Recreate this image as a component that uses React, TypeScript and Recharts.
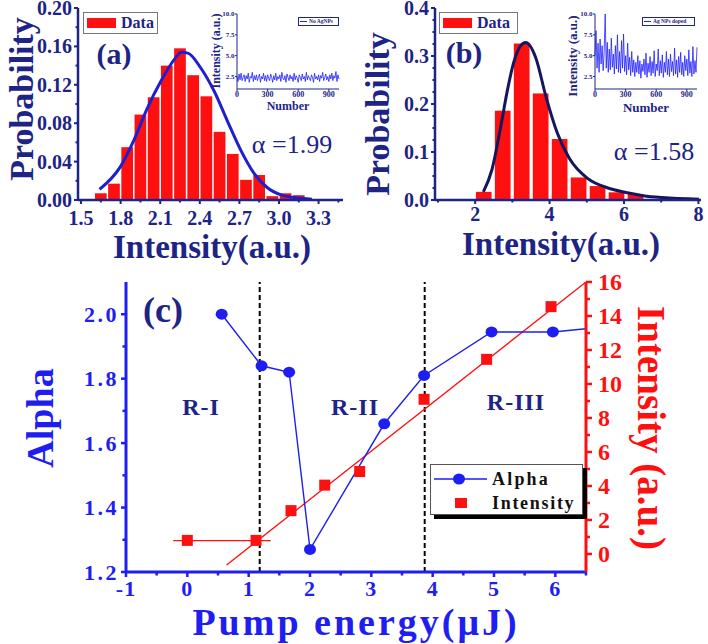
import React from "react";
import { ComposedChart, Bar, Line, Scatter, XAxis, YAxis, ReferenceLine } from "recharts";

const FONT = "'Liberation Serif', 'Times New Roman', serif";
const NAVY = "#1d2486";
const RED = "#ff1010";
const BLUE = "#1e1ef2";
const FIT_A = "#1f1fcf";
const FIT_B = "#16165e";

// ---- (a) histogram, no AgNPs
const binsA = [1.65, 1.75, 1.85, 1.95, 2.05, 2.15, 2.25, 2.35, 2.45, 2.55, 2.65, 2.75, 2.85, 2.95, 3.05, 3.15];
const probA = [0.007, 0.017, 0.055, 0.089, 0.107, 0.14, 0.158, 0.13, 0.108, 0.071, 0.048, 0.021, 0.026, 0.004, 0.007, 0.005];
const fitAx = [1.64, 1.8, 1.9, 2.0, 2.11, 2.21, 2.26, 2.31, 2.41, 2.51, 2.61, 2.71, 2.81, 2.91, 3.02, 3.12, 3.25];
const fitAy = [0.011, 0.035, 0.062, 0.095, 0.125, 0.147, 0.154, 0.153, 0.137, 0.113, 0.082, 0.052, 0.028, 0.013, 0.005, 0.0025, 0.0007];
const ticksAx = [1.5, 1.65, 1.8, 1.95, 2.1, 2.25, 2.4, 2.55, 2.7, 2.85, 3.0, 3.15, 3.3, 3.45];
const labelsAx = [1.5, 1.8, 2.1, 2.4, 2.7, 3.0, 3.3];
const ticksAy = [0, 0.02, 0.04, 0.06, 0.08, 0.1, 0.12, 0.14, 0.16, 0.18, 0.2];
const labelsAy = [0, 0.04, 0.08, 0.12, 0.16, 0.2];

// ---- (b) histogram, Ag NPs doped
const binsB = [2.23, 2.74, 3.25, 3.76, 4.27, 4.78, 5.29, 5.8, 6.31];
const probB = [0.017, 0.186, 0.326, 0.222, 0.127, 0.047, 0.029, 0.016, 0.0125];
const fitBx = [2.22, 2.45, 2.67, 2.87, 3.03, 3.21, 3.36, 3.63, 3.9, 4.21, 4.53, 5.02, 5.53, 6.02, 6.52, 7.03, 8.02];
const fitBy = [0.017, 0.063, 0.146, 0.23, 0.285, 0.32, 0.328, 0.296, 0.216, 0.139, 0.087, 0.045, 0.026, 0.016, 0.009, 0.005, 0.0014];
const ticksBx = [1, 2, 3, 4, 5, 6, 7, 8];
const labelsBx = [2, 4, 6, 8];
const ticksBy = [0, 0.025, 0.05, 0.075, 0.1, 0.125, 0.15, 0.175, 0.2, 0.225, 0.25, 0.275, 0.3, 0.325, 0.35, 0.375, 0.4];
const labelsBy = [0, 0.1, 0.2, 0.3, 0.4];

// ---- insets: intensity vs shot number
const noiseA = [2.5, 1.9, 2.8, 2.1, 2.9, 2.0, 2.4, 2.7, 1.9, 2.6, 2.2, 2.9, 1.8, 2.5, 2.3, 3.0, 1.9, 2.6, 2.1, 2.7, 2.0, 2.4, 2.8, 1.8, 2.5, 2.2, 2.9, 2.0, 2.6, 1.9, 2.7, 2.3, 2.0, 2.8, 2.4, 1.8, 2.6, 2.1, 2.9, 2.0, 2.5, 2.2, 2.7, 1.9, 3.0, 2.3, 2.1, 2.6, 1.8, 2.8, 2.4, 2.0, 2.7, 2.2, 2.5, 1.9, 2.9, 2.1, 2.6, 2.3, 1.8, 2.7, 2.4, 2.0, 2.8, 2.2, 2.5, 1.9, 3.0, 2.1, 2.6, 2.3, 2.0, 2.7, 2.4, 1.8, 2.9, 2.2, 2.5, 2.1, 2.7, 1.9, 2.6, 2.3, 3.0, 2.0, 2.4, 2.8, 2.1, 2.5, 1.9, 2.7, 2.2, 2.9, 2.0, 2.6, 2.3, 3.1, 1.9, 2.7, 2.2];
const noiseB = [5.0, 8.0, 3.5, 6.5, 3.0, 7.0, 4.0, 6.2, 3.2, 5.5, 10.0, 3.5, 6.6, 3.0, 5.8, 3.3, 7.1, 3.6, 5.2, 2.8, 6.2, 3.4, 7.5, 3.0, 5.5, 2.9, 6.8, 3.5, 7.6, 3.1, 5.0, 2.7, 6.5, 3.3, 4.8, 2.6, 5.5, 3.0, 4.5, 2.5, 4.2, 3.0, 5.0, 2.8, 4.4, 2.3, 4.0, 3.1, 4.6, 2.7, 5.3, 2.4, 4.1, 3.0, 4.9, 2.6, 4.3, 2.9, 5.6, 2.5, 4.0, 3.2, 5.8, 2.6, 4.4, 2.9, 5.1, 2.4, 4.2, 3.0, 5.5, 2.7, 4.6, 2.5, 5.2, 3.1, 4.3, 2.6, 5.9, 2.8, 4.5, 2.4, 4.9, 3.0, 5.4, 2.7, 4.2, 2.5, 5.0, 3.2, 4.6, 2.6, 5.7, 2.9, 4.3, 2.5, 6.1, 2.8, 4.4, 3.0, 6.0];
const insetXTicks = [0, 300, 600, 900];
const insetYTicks = [2.5, 5, 7.5, 10];

// ---- (c) alpha and intensity vs pump energy
const energyAlpha = [0.56, 1.21, 1.66, 2.0, 3.21, 3.86, 4.96, 5.96, 6.5];
const alphaVals = [2.0, 1.84, 1.82, 1.27, 1.66, 1.81, 1.945, 1.945, 1.955];
const energyInt = [0, 1.12, 1.69, 2.24, 2.81, 3.86, 4.88, 5.93];
const intensityVals = [0.8, 0.8, 2.55, 4.05, 4.85, 9.1, 11.45, 14.55];
const flatE = [-0.23, 1.36];
const flatI = [0.78, 0.78];
const trendE = [0.64, 6.5];
const trendI = [-0.65, 16];
const regionBounds = [1.18, 3.87];
const ticksCx = [-1, -0.5, 0, 0.5, 1, 1.5, 2, 2.5, 3, 3.5, 4, 4.5, 5, 5.5, 6, 6.5];
const labelsCx = [-1, 0, 1, 2, 3, 4, 5, 6];
const ticksCl = [1.2, 1.3, 1.4, 1.5, 1.6, 1.7, 1.8, 1.9, 2.0];
const labelsCl = [1.2, 1.4, 1.6, 1.8, 2.0];
const ticksCr = [0, 1, 2, 3, 4, 5, 6, 7, 8, 9, 10, 11, 12, 13, 14, 15, 16];
const labelsCr = [0, 2, 4, 6, 8, 10, 12, 14, 16];

const histA = binsA.map((x, i) => ({ x, p: probA[i] }));
const curveA = fitAx.map((x, i) => ({ x, y: fitAy[i] }));
const histB = binsB.map((x, i) => ({ x, p: probB[i] }));
const curveB = fitBx.map((x, i) => ({ x, y: fitBy[i] }));
const shotsA = noiseA.map((v, i) => ({ n: i * 10, v }));
const shotsB = noiseB.map((v, i) => ({ n: i * 10, v }));
const alphaData = energyAlpha.map((e, i) => ({ e, a: alphaVals[i] }));
const intData = energyInt.map((e, i) => ({ e, i: intensityVals[i] }));
const flatData = flatE.map((e, k) => ({ e, i: flatI[k] }));
const trendData = trendE.map((e, k) => ({ e, i: trendI[k] }));

type TickCfg = {
  side: "bottom" | "left" | "right";
  labels: number[];
  fmt: (v: number) => string;
  color: string;
  font: number;
  len: number;
  minor: number;
  sw: number;
  gap: number;
  spacing?: number;
  weight?: number;
};

// tick line + label drawn by hand so minor ticks can be shorter
const tick = (c: TickCfg) => (p: any) => {
  const v = Number(p.payload.value);
  const major = c.labels.some((m) => Math.abs(m - v) < 1e-9);
  const L = major ? c.len : c.minor;
  const st = {
    fontFamily: FONT, fontSize: c.font, fontWeight: c.weight ?? 700,
    fill: c.color, letterSpacing: c.spacing ?? 0,
  };
  if (c.side === "bottom") {
    return (
      <g>
        <line x1={p.x} x2={p.x} y1={p.y} y2={p.y + L} stroke={c.color} strokeWidth={c.sw} />
        {major && (
          <text x={p.x} y={p.y + c.gap} textAnchor="middle" dominantBaseline="central" style={st}>
            {c.fmt(v)}
          </text>
        )}
      </g>
    );
  }
  const dir = c.side === "left" ? -1 : 1;
  return (
    <g>
      <line x1={p.x} x2={p.x + dir * L} y1={p.y} y2={p.y} stroke={c.color} strokeWidth={c.sw} />
      {major && (
        <text x={p.x + dir * c.gap} y={p.y} textAnchor={dir < 0 ? "end" : "start"} dominantBaseline="central" style={st}>
          {c.fmt(v)}
        </text>
      )}
    </g>
  );
};

const Txt = ({ x, y, rot = 0, size, color, weight = 700, spacing = 0, children }: any) => (
  <div
    style={{
      position: "absolute", left: x, top: y,
      transform: `translate(-50%, -50%) rotate(${rot}deg)`,
      fontFamily: FONT, fontSize: size, fontWeight: weight, color,
      letterSpacing: spacing, whiteSpace: "nowrap", lineHeight: 1,
    }}
  >
    {children}
  </div>
);

const DataKey = ({ left, w }: { left: number; w: number }) => (
  <div style={{ position: "absolute", left, top: 12, width: w, height: 20, border: "1px solid #777", background: "#fff" }}>
    <div style={{ position: "absolute", left: 3, top: 5, width: 29, height: 10, background: RED }} />
    <div style={{ position: "absolute", left: 37, top: 1, fontFamily: FONT, fontSize: 16, fontWeight: 700, color: NAVY }}>Data</div>
  </div>
);

const frame = (color: string, w: number) => ({ stroke: color, strokeWidth: w });

// fixed-width histogram bar centred on the bin value
const barShape = (w: number) => (p: any) => (
  <rect x={p.x + p.width / 2 - w / 2} y={p.y} width={w} height={Math.max(0, p.height)} fill={RED} />
);

function Hist({ left, width, data, curve, dom, xt, xl, yt, yl, yfmt, xgap, curveColor, barW, yw }: any) {
  return (
    <div style={{ position: "absolute", left, top: 0 }}>
      <ComposedChart width={width} height={240} data={data} margin={{ top: 8, right: 7, bottom: 0, left: 0 }}>
        <XAxis dataKey="x" type="number" domain={dom} ticks={xt} interval={0} height={40}
          tickSize={0} tickMargin={0} tickLine={false} axisLine={frame(NAVY, 2.5)}
          tick={tick({ side: "bottom", labels: xl, fmt: (v) => (xl.length > 4 ? v.toFixed(1) : String(v)), color: NAVY, font: 20, len: 4, minor: 2.5, sw: 2, gap: xgap })} />
        <XAxis xAxisId="top" orientation="top" type="number" domain={dom} height={0} tick={false} tickLine={false} axisLine={frame(NAVY, 2.5)} />
        <YAxis type="number" domain={[0, yl[yl.length - 1]]} ticks={yt} interval={0} width={yw}
          tickSize={0} tickMargin={0} tickLine={false} axisLine={frame(NAVY, 2.5)}
          tick={tick({ side: "left", labels: yl, fmt: yfmt, color: NAVY, font: 20, len: 4, minor: 2.5, sw: 2, gap: 6 })} />
        <YAxis yAxisId="r" orientation="right" type="number" domain={[0, 1]} width={0} tick={false} tickLine={false} axisLine={frame(NAVY, 2.5)} />
        <Bar dataKey="p" fill={RED} shape={barShape(barW)} isAnimationActive={false} />
        <Line data={curve} dataKey="y" type="monotone" stroke={curveColor} strokeWidth={3} dot={false} isAnimationActive={false} />
      </ComposedChart>
    </div>
  );
}

function Inset({ left, data, yw, right, legend, legendLeft, legendW }: any) {
  return (
    <>
      <div style={{ position: "absolute", left, top: 8 }}>
        <ComposedChart width={yw + 102 + right} height={100} data={data} margin={{ top: 6, right, bottom: 0, left: 0 }}>
          <XAxis dataKey="n" type="number" domain={[0, 1000]} ticks={insetXTicks} interval={0} height={19}
            tickSize={0} tickMargin={0} tickLine={false} axisLine={frame(NAVY, 1)}
            tick={tick({ side: "bottom", labels: insetXTicks, fmt: (v) => String(v), color: NAVY, font: 8, len: 2, minor: 1, sw: 1, gap: 5 })} />
          <XAxis xAxisId="top" orientation="top" type="number" domain={[0, 1000]} height={0} tick={false} tickLine={false} axisLine={frame(NAVY, 1)} />
          <YAxis type="number" domain={[1, 10]} ticks={insetYTicks} interval={0} width={yw}
            tickSize={0} tickMargin={0} tickLine={false} axisLine={frame(NAVY, 1)}
            tick={tick({ side: "left", labels: insetYTicks, fmt: (v) => v.toFixed(1), color: NAVY, font: 7, len: 2, minor: 1, sw: 1, gap: 2.5 })} />
          <YAxis yAxisId="r" orientation="right" type="number" domain={[0, 1]} width={0} tick={false} tickLine={false} axisLine={frame(NAVY, 1)} />
          <Line dataKey="v" type="linear" stroke="#2020ff" strokeWidth={0.8} dot={false} isAnimationActive={false} />
        </ComposedChart>
      </div>
      <div style={{ position: "absolute", left: legendLeft, top: 17, width: legendW, height: 7, border: "1px solid " + NAVY, background: "#fff" }}>
        <div style={{ position: "absolute", left: 1, top: 3, width: 7, height: 1, background: "#2020ff" }} />
        <div style={{ position: "absolute", left: 10, top: 0, fontFamily: FONT, fontSize: 5.5, fontWeight: 700, color: NAVY, lineHeight: "7px", whiteSpace: "nowrap" }}>{legend}</div>
      </div>
    </>
  );
}

const squareDot = (p: any) => <rect x={p.cx - 5.5} y={p.cy - 5.5} width={11} height={11} fill={RED} />;
const alphaDot = (p: any) =>
  p.payload.e > 6.4 ? <g key={p.index} /> : <ellipse key={p.index} cx={p.cx} cy={p.cy} rx={6} ry={5.5} fill={BLUE} />;

function PanelC() {
  return (
    <div style={{ position: "absolute", left: 0, top: 240 }}>
      <ComposedChart width={708} height={404} margin={{ top: 42, right: 0, bottom: 0, left: 0 }}>
        <XAxis dataKey="e" type="number" domain={[-1, 6.5]} ticks={ticksCx} interval={0} height={72}
          tickSize={0} tickMargin={0} tickLine={false} axisLine={frame(BLUE, 3)}
          tick={tick({ side: "bottom", labels: labelsCx, fmt: (v) => String(v), color: BLUE, font: 22, len: 5, minor: 3.5, sw: 2.5, gap: 16, spacing: 1 })} />
        <XAxis xAxisId="top" orientation="top" type="number" domain={[-1, 6.5]} height={0} tick={false} tickLine={false} axisLine={frame(RED, 3)} />
        <YAxis yAxisId="L" type="number" domain={[1.2, 2.1]} ticks={ticksCl} interval={0} width={126}
          tickSize={0} tickMargin={0} tickLine={false} axisLine={frame(BLUE, 3)}
          tick={tick({ side: "left", labels: labelsCl, fmt: (v) => v.toFixed(1), color: BLUE, font: 22, len: 5, minor: 3.5, sw: 2.5, gap: 7, spacing: 2.5 })} />
        <YAxis yAxisId="I" orientation="right" type="number" domain={[-1.06, 16]} ticks={ticksCr} interval={0} width={122}
          tickSize={0} tickMargin={0} tickLine={false} axisLine={frame(RED, 3)}
          tick={tick({ side: "right", labels: labelsCr, fmt: (v) => String(v), color: RED, font: 24, len: 6, minor: 4, sw: 2.5, gap: 12 })} />
        {regionBounds.map((b) => (
          <ReferenceLine key={b} x={b} yAxisId="L" stroke="#000" strokeWidth={2} strokeDasharray="5 3" />
        ))}
        <Line data={flatData} dataKey="i" yAxisId="I" type="linear" stroke={RED} strokeWidth={1.3} dot={false} isAnimationActive={false} />
        <Line data={trendData} dataKey="i" yAxisId="I" type="linear" stroke={RED} strokeWidth={1.3} dot={false} isAnimationActive={false} />
        <Scatter data={intData} dataKey="i" yAxisId="I" fill={RED} shape={squareDot} isAnimationActive={false} />
        <Line data={alphaData} dataKey="a" yAxisId="L" type="linear" stroke={BLUE} strokeWidth={1.4} dot={alphaDot} isAnimationActive={false} />
      </ComposedChart>
    </div>
  );
}

function LegendC() {
  return (
    <>
      <div style={{ position: "absolute", left: 434, top: 468, width: 153, height: 51, background: "#000" }} />
      <svg style={{ position: "absolute", left: 430, top: 464 }} width={153} height={51}>
        <rect x={0.5} y={0.5} width={152} height={50} fill="#fff" stroke="#555" />
        <line x1={4} x2={57} y1={15} y2={15} stroke={BLUE} strokeWidth={1.5} />
        <ellipse cx={29} cy={15} rx={6} ry={5.5} fill={BLUE} />
        <rect x={25} y={34} width={12} height={10} fill={RED} />
        <text x={62} y={15} dominantBaseline="central" style={{ fontFamily: FONT, fontSize: 18, fontWeight: 700, fill: "#111", letterSpacing: 2.2 }}>Alpha</text>
        <text x={62} y={39} dominantBaseline="central" style={{ fontFamily: FONT, fontSize: 18, fontWeight: 700, fill: "#111", letterSpacing: 1.7 }}>Intensity</text>
      </svg>
    </>
  );
}

export default function App() {
  return (
    <div style={{ position: "absolute", left: 0, top: 0, width: 708, height: 644, background: "#fff", overflow: "hidden" }}>
      <Hist left={0} width={350} data={histA} curve={curveA} dom={[1.477, 3.485]} xt={ticksAx} xl={labelsAx}
        yt={ticksAy} yl={labelsAy} yfmt={(v: number) => v.toFixed(2)} xgap={18} curveColor={FIT_A} barW={11.7} yw={78} />
      <Hist left={354} width={354} data={histB} curve={curveB} dom={[0.92, 8.07]} xt={ticksBx} xl={labelsBx}
        yt={ticksBy} yl={labelsBy} yfmt={(v: number) => v.toFixed(1)} xgap={14} curveColor={FIT_B} barW={15.7} yw={81} />
      <DataKey left={83} w={73} />
      <DataKey left={439} w={77} />
      <Txt x={114} y={54} size={30} color={NAVY}>(a)</Txt>
      <Txt x={464} y={53} size={30} color={NAVY}>(b)</Txt>
      <Txt x={292} y={145} size={26} color={NAVY} weight={400}>α =1.99</Txt>
      <Txt x={654} y={152} size={26} color={NAVY} weight={400}>α =1.58</Txt>
      <Txt x={22} y={99} rot={-90} size={34} color={NAVY}>Probability</Txt>
      <Txt x={378} y={114} rot={-90} size={34} color={NAVY}>Probability</Txt>
      <Txt x={212} y={247} size={33} color={NAVY}>Intensity(a.u.)</Txt>
      <Txt x={561} y={244} size={33} color={NAVY}>Intensity(a.u.)</Txt>

      <Inset left={205} data={shotsA} yw={32} right={6} legend="No AgNPs" legendLeft={298} legendW={39} />
      <Inset left={565} data={shotsB} yw={30} right={5} legend="Ag NPs doped" legendLeft={642} legendW={51} />
      <Txt x={216} y={51} rot={-90} size={12} color={NAVY}>Intensity (a.u.)</Txt>
      <Txt x={288} y={106} size={12} color={NAVY}>Number</Txt>
      <Txt x={572} y={56} rot={-90} size={13} color={NAVY}>Intensity (a.u.)</Txt>
      <Txt x={646} y={107} size={13} color={NAVY}>Number</Txt>

      <PanelC />
      <LegendC />
      <Txt x={163} y={310} size={36} color={NAVY}>(c)</Txt>
      <Txt x={201} y={407} size={24} color={NAVY} spacing={1}>R-I</Txt>
      <Txt x={355} y={407} size={24} color={NAVY} spacing={1}>R-II</Txt>
      <Txt x={516} y={402} size={24} color={NAVY} spacing={1}>R-III</Txt>
      <Txt x={40} y={418} rot={-90} size={38} color={BLUE}>Alpha</Txt>
      <Txt x={651} y={428} rot={90} size={39} color={RED}>Intensity (a.u.)</Txt>
      <Txt x={356} y={622} size={38} color={BLUE} spacing={3}>Pump energy(μJ)</Txt>
    </div>
  );
}
